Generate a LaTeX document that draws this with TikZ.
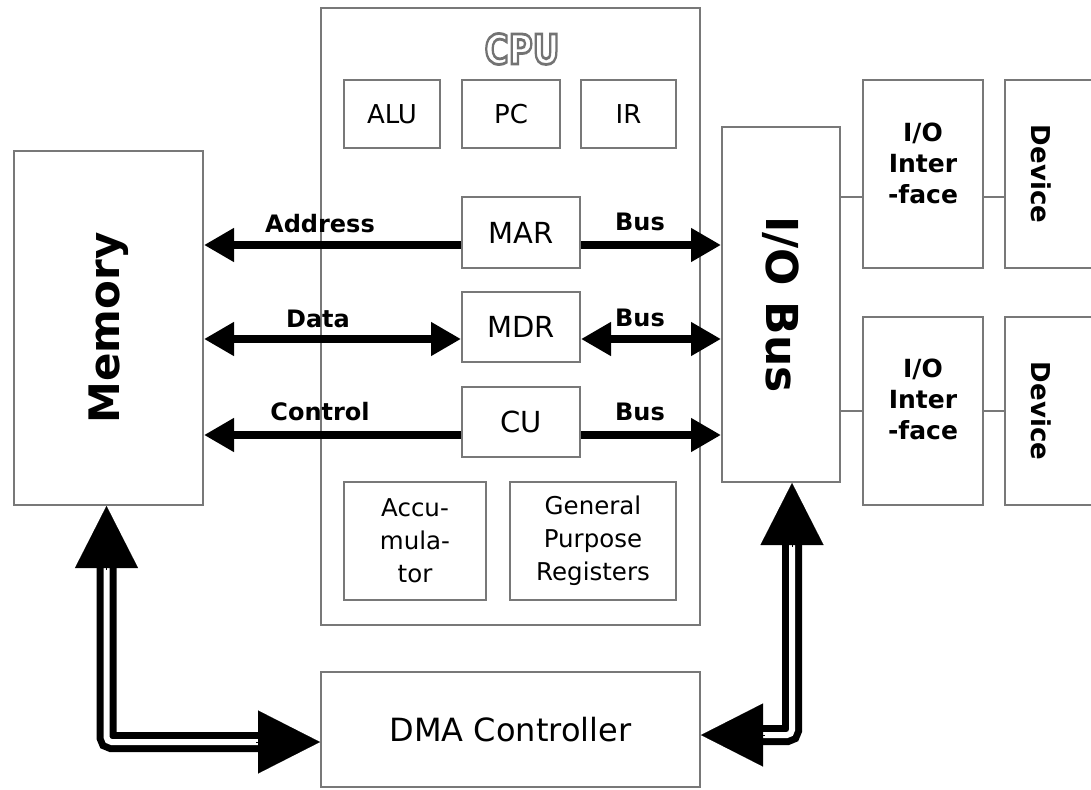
\documentclass[tikz,border=0pt]{standalone}
\usepackage{fontspec}
\setmainfont{DejaVu Sans}
\usetikzlibrary{arrows.meta,calc}
\definecolor{boxgray}{HTML}{787878}
\newcommand\fsz[2]{\fontsize{#1pt}{#2pt}\selectfont}
\newcommand\outlinetext[1]{%
  \special{pdf:literal direct q 1 Tr 2.8 w 0.45 0.45 0.45 RG}#1\special{pdf:literal direct Q}}
\tikzset{
  box/.style={draw=boxgray, line width=2pt, inner sep=0pt, fill=white},
  lbl/.style={font=\fsz{24}{28}\bfseries, inner sep=0pt},
  reg/.style={font=\fsz{26}{31}, inner sep=0pt, align=center},
  bus/.style={line width=8pt},
  bustip/.tip={Triangle[length=30pt,width=32pt]},
  dbl/.style={draw=black, double=white, double distance=6pt, line width=7pt, rounded corners=5pt},
  bighead/.style={line width=0.1pt, -{Triangle[length=62pt,width=63pt]}},
  wire/.style={draw=boxgray, line width=2pt}
}
\begin{document}
\begin{tikzpicture}[x=1pt,y=-1pt]
\clip (0,0) rectangle (1091,789);
\fill[white] (0,0) rectangle (1091,789);

% CPU
\node[box, minimum width=379pt, minimum height=617pt] (cpu) at (510.5,316.5) {};
\node[font=\fsz{41}{41}\bfseries, inner sep=0pt, xscale=0.8] (cpulabel) at (522,49) {\outlinetext{CPU}};
\node[box, reg, minimum width=96pt, minimum height=68pt] (alu) at (392,114) {ALU};
\node[box, reg, minimum width=98pt, minimum height=68pt] (pc) at (511,114) {PC};
\node[box, reg, minimum width=95pt, minimum height=68pt] (ir) at (628.5,114) {IR};
\node[box, reg, font=\fsz{29}{31}, minimum width=118pt, minimum height=71pt] (mar) at (521,232.5) {MAR};
\node[box, reg, font=\fsz{29}{31}, minimum width=118pt, minimum height=70pt] (mdr) at (521,327) {MDR};
\node[box, reg, font=\fsz{29}{31}, minimum width=118pt, minimum height=70pt] (cu) at (521,422) {CU};
\node[box, reg, font=\fsz{24.5}{33}, minimum width=142pt, minimum height=118pt] (acc) at (415,541) {Accu-\\mula-\\tor};
\node[box, reg, font=\fsz{24.5}{33}, minimum width=166pt, minimum height=118pt] (gpr) at (593,541) {General\\Purpose\\Registers};

% Memory and I/O bus
\node[box, minimum width=189pt, minimum height=354pt, font=\fsz{42}{42}\bfseries] (mem) at (108.5,328) {\rotatebox{90}{Memory}};
\node[box, minimum width=118pt, minimum height=355pt, font=\fsz{44}{44}\bfseries] (iobus) at (781,304.5) {\rotatebox{-90}{I/O Bus}};

% interfaces and devices
\node[box, minimum width=120pt, minimum height=188pt] (if1) at (923,174) {};
\node[box, minimum width=120pt, minimum height=188pt] (if2) at (923,411) {};
\node[font=\fsz{25}{31}\bfseries, align=center, inner sep=0pt] (if1t) at (923,163) {I/O\\Inter\\-face};
\node[font=\fsz{25}{31}\bfseries, align=center, inner sep=0pt] (if2t) at (923,399) {I/O\\Inter\\-face};
\node[box, minimum width=110pt, minimum height=188pt] (dev1) at (1060,174) {};
\node[box, minimum width=110pt, minimum height=188pt] (dev2) at (1060,411) {};
\node[font=\fsz{26}{26}\bfseries, inner sep=0pt] (dev1t) at (1041,174) {\rotatebox{-90}{Device}};
\node[font=\fsz{26}{26}\bfseries, inner sep=0pt] (dev2t) at (1041,411) {\rotatebox{-90}{Device}};

\coordinate (y1) at (0,197);
\coordinate (y2) at (0,411);
\draw[wire] (iobus.east |- y1) -- (if1.west |- y1);
\draw[wire] (if1.east |- y1) -- (dev1.west |- y1);
\draw[wire] (iobus.east |- y2) -- (if2.west |- y2);
\draw[wire] (if2.east |- y2) -- (dev2.west |- y2);

% DMA
\node[box, reg, font=\fsz{32}{32}, minimum width=379pt, minimum height=115pt] (dma) at (510.5,729.5) {DMA Controller};

% buses
\coordinate (ya) at (0,245);
\coordinate (yd) at (0,339);
\coordinate (yc) at (0,435);
\draw[bus, -{bustip}] (mar.west |- ya) -- (mem.east |- ya);
\draw[bus, -{bustip}] (mar.east |- ya) -- (iobus.west |- ya);
\draw[bus, {bustip}-{bustip}] (mem.east |- yd) -- (mdr.west |- yd);
\draw[bus, {bustip}-{bustip}] (mdr.east |- yd) -- (iobus.west |- yd);
\draw[bus, -{bustip}] (cu.west |- yc) -- (mem.east |- yc);
\draw[bus, -{bustip}] (cu.east |- yc) -- (iobus.west |- yc);

\node[lbl] (la) at (320,224) {Address};
\node[lbl] (ld) at (318,319) {Data};
\node[lbl] (lc) at (320,412) {Control};
\node[lbl] (b1) at (640,222) {Bus};
\node[lbl] (b2) at (640,318) {Bus};
\node[lbl] (b3) at (640,412) {Bus};

% DMA double arrows
\coordinate (mtip) at ($(mem.south)+(-2,0)$);
\coordinate (dtipl) at ($(dma.west)+(0,12.5)$);
\draw[dbl] ($(mtip)+(0,58)$) |- ($(dtipl)+(-58,0)$);
\draw[bighead] ($(mtip)+(0,64)$) -- (mtip);
\draw[bighead] ($(dtipl)+(-64,0)$) -- (dtipl);

\coordinate (btip) at ($(iobus.south)+(11,0)$);
\coordinate (dtipr) at ($(dma.east)+(0,5.5)$);
\draw[dbl] ($(btip)+(0,58)$) |- ($(dtipr)+(58,0)$);
\draw[bighead] ($(btip)+(0,64)$) -- (btip);
\draw[bighead] ($(dtipr)+(64,0)$) -- (dtipr);
\end{tikzpicture}
\end{document}
